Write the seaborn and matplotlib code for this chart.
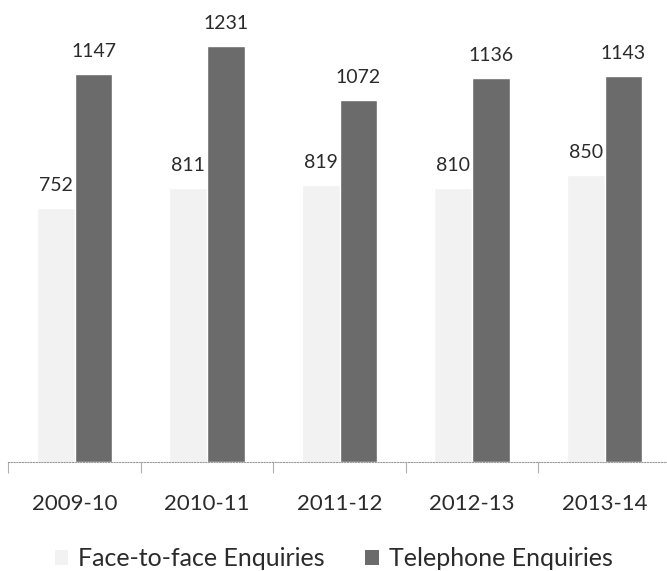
import numpy as np
import pandas as pd
import seaborn as sns
import matplotlib.pyplot as plt
from matplotlib.patches import Patch


# Data
years = ['2009-10', '2010-11', '2011-12', '2012-13', '2013-14']
face_to_face = [752, 811, 819, 810, 850]
telephone = [1147, 1231, 1072, 1136, 1143]
series_names = ['Face-to-face Enquiries', 'Telephone Enquiries']

light_col = '#f2f2f2'
dark_col = '#6b6b6b'

# Long format for seaborn
df = pd.DataFrame({
    'year': years * 2,
    'value': face_to_face + telephone,
    'series': [series_names[0]] * len(years) + [series_names[1]] * len(years),
})

sns.set_style('white')
plt.rcParams['font.family'] = ['Lato', 'DejaVu Sans']

fig = plt.figure(figsize=(6.67, 5.71), dpi=100)
ax = fig.add_axes([0.0127, 0.191, 0.993, 0.774])

sns.barplot(data=df, x='year', y='value', hue='series',
            palette=[light_col, dark_col], width=0.57, dodge=True,
            saturation=1, ax=ax, legend=False)

ax.set_xlim(-0.5, 4.5)
ax.set_ylim(0, 1308)

# value labels above bars
for cont in ax.containers:
    ax.bar_label(cont, padding=10, fontsize=14, color='#2b2b2b')

# axis styling
for side in ['top', 'right', 'left']:
    ax.spines[side].set_visible(False)
ax.spines['bottom'].set_linestyle((0, (1, 1.5)))
ax.spines['bottom'].set_color('#9a9a9a')
ax.spines['bottom'].set_linewidth(0.8)
ax.set_yticks([])
ax.set_xlabel('')
ax.set_ylabel('')

ax.set_xticks(range(len(years)))
ax.set_xticklabels(years, fontsize=16, color='#2b2b2b')
ax.tick_params(axis='x', which='major', length=0, pad=23)
ax.set_xticks(np.arange(-0.5, len(years), 1), minor=True)
ax.tick_params(axis='x', which='minor', bottom=True, length=8, width=0.8,
               color='#b0b0b0', direction='out')

handles = [Patch(facecolor=light_col, edgecolor='none'),
           Patch(facecolor=dark_col, edgecolor='none')]
fig.legend(handles, series_names, loc='center', bbox_to_anchor=(0.5, 0.022),
           ncol=2, frameon=False, fontsize=18, handlelength=0.55,
           handleheight=0.55, handletextpad=0.4, columnspacing=1.6,
           labelcolor='#2b2b2b')

fig.savefig('out.png', dpi=100)
